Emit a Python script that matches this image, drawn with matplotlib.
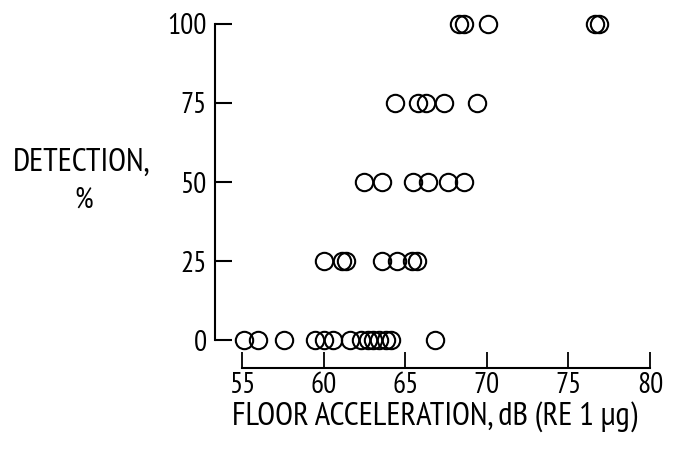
import matplotlib
matplotlib.use('Agg')
import matplotlib.pyplot as plt

# ── Data ──────────────────────────────────────────────────────────
accel_0 = [55.1, 56.0, 57.6, 59.5, 60.0, 60.6, 61.6, 62.3, 62.7, 63.0,
           63.4, 63.8, 64.1, 66.8]
accel_25 = [60.0, 61.1, 61.4, 63.6, 64.5, 65.4, 65.7]
accel_50 = [62.5, 63.6, 65.5, 66.4, 67.6, 68.6]
accel_75 = [64.4, 65.8, 66.3, 67.4, 69.4]
accel_100 = [68.3, 68.6, 70.1, 76.6, 76.9]
detection_levels = [0, 25, 50, 75, 100]

x_ticks = [55, 60, 65, 70, 75, 80]
y_ticks = [0, 25, 50, 75, 100]

plt.rcParams['font.family'] = ['PT Sans Narrow', 'DejaVu Sans']
TICK_FS = 21
LABEL_FS = 23.5

fig = plt.figure(figsize=(6.73, 4.51), dpi=100)
ax = fig.add_axes([0.3195, 0.2461, 0.654, 0.7007])

groups = [accel_0, accel_25, accel_50, accel_75, accel_100]
for level, xs in zip(detection_levels, groups):
    ax.plot(xs, [level] * len(xs), linestyle='none', marker='o',
            markersize=12.5, markerfacecolor='none', markeredgecolor='black',
            markeredgewidth=1.5, clip_on=False, zorder=3)

ax.set_xlim(53.35, 80.31)
ax.set_ylim(0, 100)

# Spines: detached bottom axis, left axis only over data range
for side in ('top', 'right'):
    ax.spines[side].set_visible(False)
ax.spines['bottom'].set_position(('outward', 20.2))
ax.spines['bottom'].set_bounds(55, 80)
ax.spines['left'].set_bounds(0, 100)
for side in ('bottom', 'left'):
    ax.spines[side].set_linewidth(1.5)

ax.set_xticks(x_ticks)
ax.set_yticks(y_ticks)
ax.tick_params(axis='y', direction='in', length=12, width=1.5, pad=6,
               labelsize=TICK_FS)
ax.tick_params(axis='x', direction='in', length=11.5, width=1.3, pad=3,
               labelsize=TICK_FS)

ax.set_xlabel('FLOOR ACCELERATION, dB (RE 1 µg)', fontsize=LABEL_FS,
              labelpad=1)
fig.text(0.122, 1 - 163 / 451, 'DETECTION,', ha='center', va='center',
         fontsize=LABEL_FS)
fig.text(0.125, 1 - 200 / 451, '%', ha='center', va='center',
         fontsize=TICK_FS)

fig.savefig('out.png', dpi=100, facecolor='white')
